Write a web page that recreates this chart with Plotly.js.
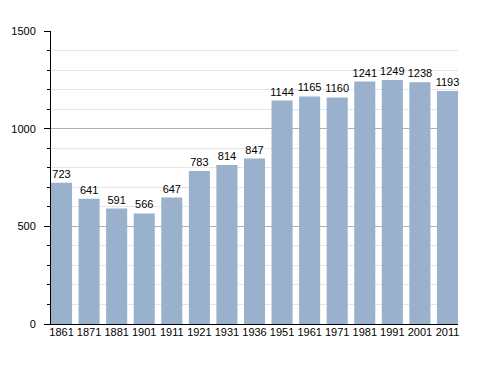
<!DOCTYPE html>
<html><head><meta charset="utf-8">
<script src="https://cdn.plot.ly/plotly-3.0.1.min.js"></script>
<style>html,body{margin:0;padding:0;background:#fff}</style>
</head><body>
<div id="chart" style="width:488px;height:373px"></div>
<script>
const years = ["1861","1871","1881","1901","1911","1921","1931","1936","1951","1961","1971","1981","1991","2001","2011"];
const population = [723,641,591,566,647,783,814,847,1144,1165,1160,1241,1249,1238,1193];

const trace = {
  type: 'bar',
  x: years,
  y: population,
  text: population.map(String),
  textposition: 'outside',
  constraintext: 'none',
  cliponaxis: false,
  textfont: {family: 'Liberation Sans, Arial, sans-serif', size: 11, color: '#000'},
  marker: {color: '#99b1cd', line: {width: 0}},
  hoverinfo: 'x+y'
};

const layout = {
  width: 488, height: 373,
  margin: {l: 51, r: 30, t: 31, b: 49, pad: 0},
  paper_bgcolor: '#fff', plot_bgcolor: '#fff',
  bargap: 0.236,
  showlegend: false,
  font: {family: 'Liberation Sans, Arial, sans-serif', size: 11, color: '#000'},
  xaxis: {
    type: 'category',
    range: [-0.382, 14.382],
    showline: true, linecolor: '#000', linewidth: 1,
    ticks: '', showgrid: false, zeroline: false,
    ticklabelstandoff: -2,
    tickfont: {size: 11, color: '#000'}
  },
  yaxis: {
    range: [0, 1500],
    dtick: 500, tick0: 0,
    showline: true, linecolor: '#000', linewidth: 1,
    ticks: 'outside', ticklen: 6, tickcolor: '#000', tickwidth: 1,
    ticklabelstandoff: 6,
    showgrid: true, gridcolor: '#b0b0b0', gridwidth: 1,
    zeroline: false,
    tickfont: {size: 11, color: '#000'},
    minor: {dtick: 100, ticks: 'outside', ticklen: 3, tickcolor: '#000', showgrid: true, gridcolor: '#e6e6e6', gridwidth: 1}
  }
};

Plotly.newPlot('chart', [trace], layout, {displayModeBar: false, staticPlot: true});
</script>
</body></html>
